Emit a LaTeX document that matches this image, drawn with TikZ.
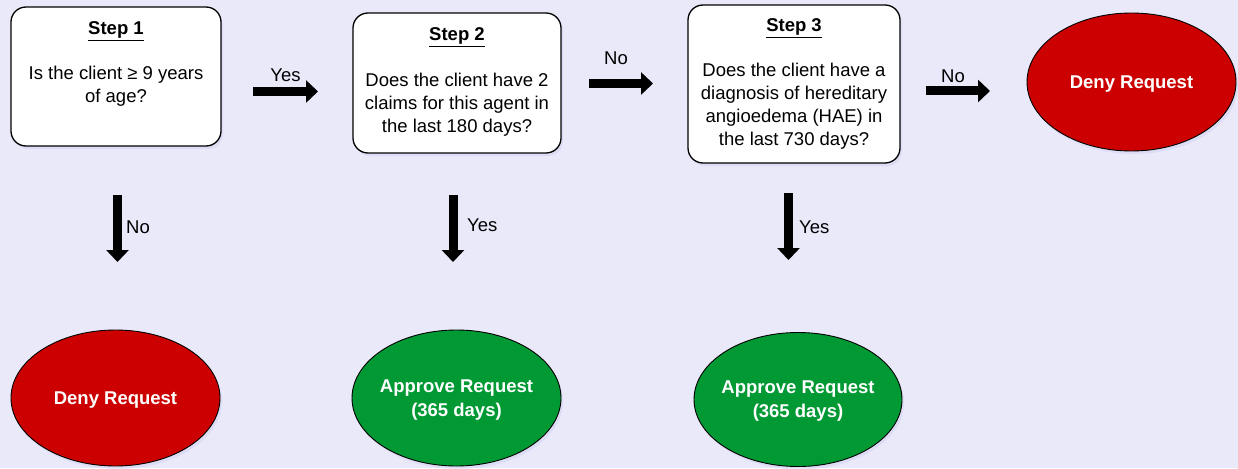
\documentclass[tikz,border=0pt]{standalone}
\usepackage{fontspec}
\setmainfont{Liberation Sans}
\usetikzlibrary{arrows.meta,shapes.geometric,shadows}
\definecolor{bg}{RGB}{233,233,250}
\definecolor{denyred}{RGB}{204,0,0}
\definecolor{okgreen}{RGB}{0,153,51}
\definecolor{shadowc}{RGB}{208,210,242}
\begin{document}
\begin{tikzpicture}[x=1pt,y=-1pt,
  capbox/.style={text height=13.2pt, text depth=0pt},
  stepbox/.style={draw=black, line width=1.3pt, rounded corners=15pt, fill=white, inner sep=0pt,
    drop shadow={shadow xshift=2pt,shadow yshift=-3pt,fill=shadowc}},
  outcome/.style={ellipse, draw=black, line width=0.9pt, inner xsep=-8pt, inner ysep=0pt, text=white, align=center,
    font=\bfseries\fontsize{18.5}{24}\selectfont,
    drop shadow={shadow xshift=2pt,shadow yshift=-3pt,fill=shadowc}},
  deny/.style={outcome, capbox, fill=denyred, minimum width=209pt, minimum height=138pt},
  approve/.style={outcome, text depth=-4pt, fill=okgreen, minimum width=209pt, minimum height=136pt},
  blockarrow/.style={line width=9pt, -{Triangle[width=22pt,length=12pt]}},
  lbl/.style={capbox, font=\fontsize{18.5}{22}\selectfont, inner sep=0pt},
  bodytext/.style={align=center, font=\fontsize{18.5}{23}\selectfont, inner sep=0pt},
  steptitle/.style={capbox, font=\bfseries\fontsize{18.5}{22}\selectfont, inner sep=0pt}]
\useasboundingbox (0,0) rectangle (1238,468);
\fill[bg] (0,0) rectangle (1238,468);

% step boxes
\node[stepbox, minimum width=210pt, minimum height=139pt] (s1) at (116,76.5) {};
\node[stepbox, minimum width=208pt, minimum height=140pt] (s2) at (457,83) {};
\node[stepbox, minimum width=212pt, minimum height=158pt] (s3) at (794,84) {};

\node[steptitle] (t1) at (116,28) {\underline{Step 1}};
\node[bodytext] (b1) at (116,86.5) {Is the client ≥ 9 years\\of age?};
\node[steptitle] (t2) at (457,34) {\underline{Step 2}};
\node[bodytext] (b2) at (457,105) {Does the client have 2\\claims for this agent in\\the last 180 days?};
\node[steptitle] (t3) at (794,25) {\underline{Step 3}};
\node[bodytext] (b3) at (794,106) {Does the client have a\\diagnosis of hereditary\\angioedema (HAE) in\\the last 730 days?};

% outcomes
\node[deny] (d0) at (1131.5,82) {Deny Request};
\node[deny, minimum height=136pt] (d1) at (115.5,398) {Deny Request};
\node[approve] (ap2) at (456.5,398) {Approve Request\\(365 days)};
\node[approve, minimum width=208pt, minimum height=134pt] (ap3) at (798,399.5) {Approve Request\\(365 days)};

% arrows
\coordinate (a1s) at (253,91.5);  \coordinate (a1e) at (318,91.5);
\coordinate (a2s) at (589,83.5);  \coordinate (a2e) at (653,83.5);
\coordinate (a3s) at (926,91);    \coordinate (a3e) at (990,91);
\coordinate (v1s) at (117.5,195); \coordinate (v1e) at (117.5,262);
\coordinate (v2s) at (453,195);   \coordinate (v2e) at (453,262);
\coordinate (v3s) at (788.5,193); \coordinate (v3e) at (788.5,260);
\draw[blockarrow] (a1s) -- (a1e);
\draw[blockarrow] (a2s) -- (a2e);
\draw[blockarrow] (a3s) -- (a3e);
\draw[blockarrow] (v1s) -- (v1e);
\draw[blockarrow] (v2s) -- (v2e);
\draw[blockarrow] (v3s) -- (v3e);

\node[lbl] (l1) at (285.5,75) {Yes};
\node[lbl] (l2) at (616,58) {No};
\node[lbl] (l3) at (953,76) {No};
\node[lbl, anchor=west] (l4) at (126,227) {No};
\node[lbl, anchor=west] (l5) at (467,225) {Yes};
\node[lbl, anchor=west] (l6) at (799,227) {Yes};
\end{tikzpicture}
\end{document}
